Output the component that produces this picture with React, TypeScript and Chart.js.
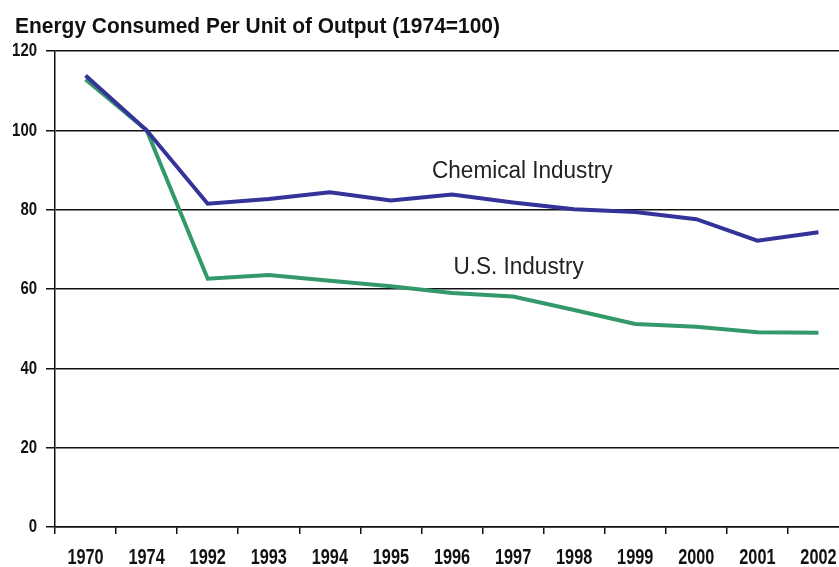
import React, { useEffect, useRef } from "react";
import { Chart, registerables } from "chart.js";

Chart.register(...registerables);

const categories = ["1970", "1974", "1992", "1993", "1994", "1995", "1996", "1997", "1998", "1999", "2000", "2001", "2002"];
const chemicalIndustry = [113.8, 100, 81.5, 82.7, 84.4, 82.3, 83.8, 81.8, 80.1, 79.4, 77.6, 72.2, 74.3];
const usIndustry = [112.8, 100, 62.6, 63.5, 62.1, 60.7, 59.0, 58.1, 54.7, 51.2, 50.5, 49.1, 49.0];
const yTicks = [0, 20, 40, 60, 80, 100, 120];

const titleText = "Energy Consumed Per Unit of Output (1974=100)";
const SANS = '"Liberation Sans", Arial, sans-serif';

// draw text horizontally compressed (narrow face emulation)
function narrowText(ctx: any, text: string, x: number, y: number, scaleX: number, align: "left" | "center" | "right") {
  const w = ctx.measureText(text).width * scaleX;
  let left = x;
  if (align === "center") left = x - w / 2;
  if (align === "right") left = x - w;
  ctx.save();
  ctx.translate(left, y);
  ctx.scale(scaleX, 1);
  ctx.textAlign = "left";
  ctx.fillText(text, 0, 0);
  ctx.restore();
}

const textPlugin = {
  id: "textPlugin",
  afterDraw(chart: any) {
    const ctx = chart.ctx;
    const x = chart.scales.x;
    const y = chart.scales.y;
    ctx.save();
    ctx.fillStyle = "#111";

    // title
    ctx.font = `bold 22px ${SANS}`;
    ctx.textBaseline = "alphabetic";
    const tw = ctx.measureText(titleText).width;
    narrowText(ctx, titleText, 15, 33, 485 / tw, "left");

    // x tick labels
    ctx.font = `bold 22px ${SANS}`;
    ctx.textBaseline = "middle";
    categories.forEach((c, i) => {
      narrowText(ctx, c, x.getPixelForValue(i), 558, 0.74, "center");
    });

    // y tick labels
    ctx.font = `bold 18px ${SANS}`;
    yTicks.forEach((v) => {
      narrowText(ctx, String(v), 37, y.getPixelForValue(v) + 0.5, 0.83, "right");
    });

    // series annotations
    const px = (v: number) => {
      const i = Math.floor(v);
      const f = v - i;
      return x.getPixelForValue(i) + f * (x.getPixelForValue(i + 1) - x.getPixelForValue(i));
    };
    ctx.font = `23px ${SANS}`;
    ctx.fillStyle = "#222";
    ctx.textBaseline = "middle";
    narrowText(ctx, "Chemical Industry", px(7.15), y.getPixelForValue(89.5), 0.98, "center");
    narrowText(ctx, "U.S. Industry", px(7.09), y.getPixelForValue(65.5), 0.98, "center");
    ctx.restore();
  },
};

export default function App() {
  const ref = useRef<HTMLCanvasElement>(null);
  useEffect(() => {
    const chart = new Chart(ref.current!, {
      type: "line",
      data: {
        labels: categories,
        datasets: [
          {
            label: "Chemical Industry",
            data: chemicalIndustry,
            borderColor: "#33339a",
            borderWidth: 4,
            pointRadius: 0,
            tension: 0,
          },
          {
            label: "U.S. Industry",
            data: usIndustry,
            borderColor: "#34996a",
            borderWidth: 4,
            pointRadius: 0,
            tension: 0,
          },
        ],
      },
      options: {
        responsive: false,
        animation: false,
        layout: { padding: { top: 51, left: 0, right: 0, bottom: 0 } },
        plugins: { legend: { display: false }, tooltip: { enabled: false }, title: { display: false } },
        scales: {
          x: {
            offset: true,
            grid: { display: true, drawOnChartArea: false, drawTicks: true, tickLength: 7, color: "#111", lineWidth: 1.5, offset: true },
            border: { display: true, color: "#111", width: 1.5 },
            ticks: { display: false, autoSkip: false, maxRotation: 0 },
            afterFit: (s: any) => { s.height = 40; },
          },
          y: {
            min: 0,
            max: 120,
            afterBuildTicks: (s: any) => { s.ticks = yTicks.map((v) => ({ value: v })); },
            grid: { color: "#111", lineWidth: 1.5, tickLength: 9, drawTicks: true },
            border: { display: true, color: "#111", width: 1.5 },
            ticks: { display: false },
            afterFit: (s: any) => { s.width = 55; },
          },
        },
      },
      plugins: [textPlugin],
    });
    return () => chart.destroy();
  }, []);
  return (
    <div style={{ position: "fixed", left: 0, top: 0, width: 839, height: 567, overflow: "hidden", background: "#fff" }}>
      <canvas ref={ref} width={849} height={567} style={{ width: 849, height: 567, display: "block" }} />
    </div>
  );
}
